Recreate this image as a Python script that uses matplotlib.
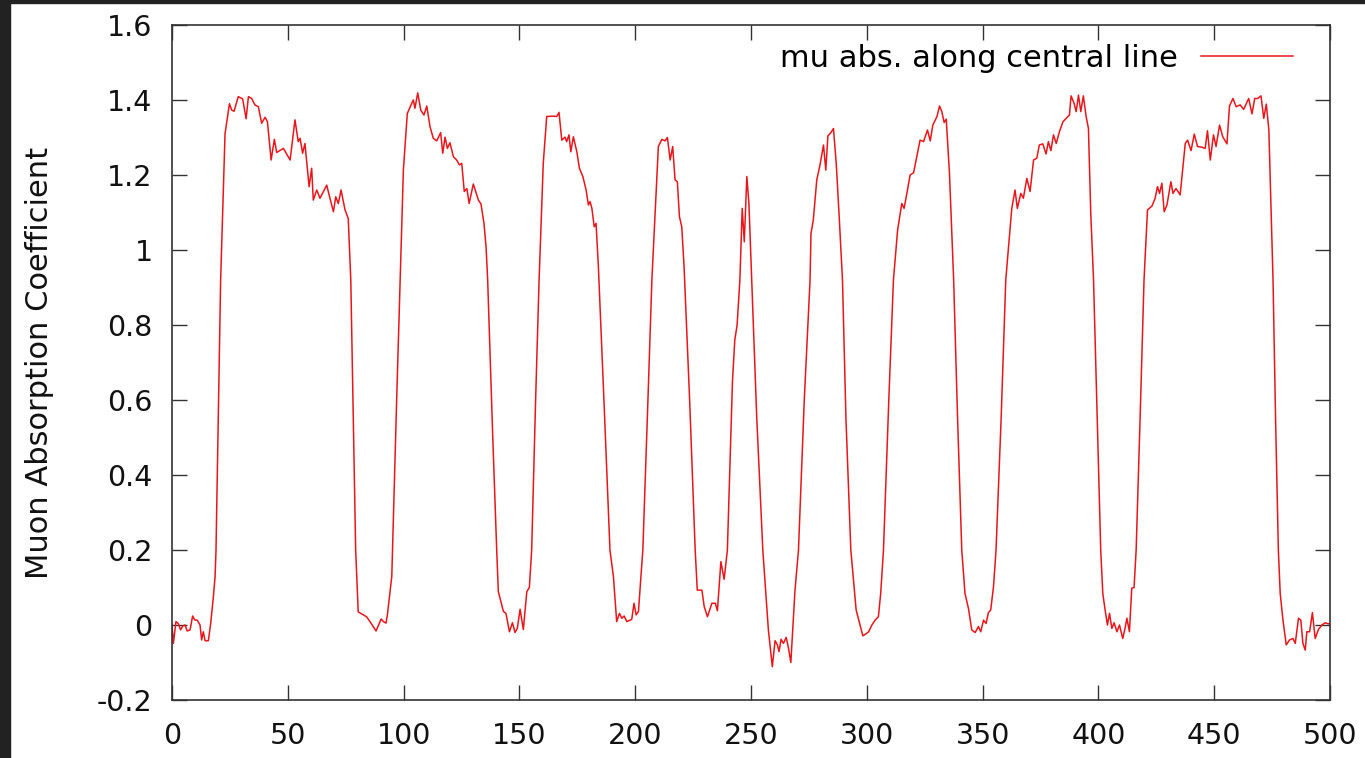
import matplotlib
matplotlib.use("Agg")
from matplotlib import pyplot as plt
from matplotlib.patches import Rectangle

# position along the central line and the absorption
pos = [0, 0.6, 1.7, 2.7, 3.7, 4.6, 5.6, 6.6, 7.8, 8.9, 9.9, 10.9, 12.1, 12.8, 13.5, 14.3, 15.7, 16.7,
       17.8, 18.6, 19.0, 21.0, 22.9, 24.8, 25.8, 26.8, 28.6, 30.5, 32.0, 33.0, 34.4, 35.8, 37.3, 38.7,
       40.2, 41.2, 42.8, 44.2, 45.2, 48.1, 51.0, 53.1, 54.5, 55.3, 56.4, 57.4, 59.2, 60.3, 61.0, 62.5,
       63.9, 66.8, 68.2, 69.7, 70.7, 71.8, 73.0, 74.7, 76.1, 77.2, 79.3,
       80.4, 84.0, 85.5, 88.1, 90.3, 91.3, 92.4, 93.0, 94.9, 97.0, 99.9, 101.6, 103.5, 104.2, 104.9,
       106.1, 107.4, 108.8, 110.0, 111.4, 112.8, 114.3, 116.0, 116.9, 117.9, 118.9, 120.0, 121.5,
       122.9, 124.1, 125.1, 126.2, 127.3, 128.3, 130.1, 132.3, 133.4, 134.7, 135.6, 136.3, 138.5,
       140.2, 140.9,
       143.1, 144.2, 145.7, 147.0, 148.1, 149.1, 150.3, 151.7, 153.2, 154.3, 155.3, 157.0, 158.5,
       160.3, 161.8, 164.7, 166.1, 167.1, 168.3, 169.7, 170.4, 171.4, 172.2, 173.3, 174.8, 175.9,
       177.4, 178.8, 179.8, 180.5, 181.3, 182.3, 183.1, 184.1, 186.5, 189.1, 190.6,
       192.0, 193.2, 194.2, 195.2, 196.4, 198.5, 199.5, 200.4, 201.4, 203.3, 205.5, 207.2, 210.0,
       211.5, 212.9, 213.9, 215.1, 216.2, 217.2, 218.2, 219.1, 220.1, 221.1, 223.5, 225.9, 226.8,
       228.8, 229.8, 231.2, 233.1, 234.6, 235.5, 237.0, 238.4, 239.8, 241.0, 242.0, 243.0, 244.0,
       245.2, 246.2, 247.1, 248.2, 249.1, 250.3, 252.5, 255.1, 256.1, 257.5,
       259.2, 260.4, 261.4, 262.1, 263.0, 264.0, 265.2, 266.2, 267.2, 269.0, 270.5, 273.0, 275.5,
       275.9, 276.9, 278.4, 279.8, 281.3, 282.3, 283.2, 284.5, 285.6, 286.8, 288.0, 289.5, 291.0,
       293.1,
       295.4, 298.3, 300.0, 300.8, 302.2, 303.6, 305.0, 306.0, 307.2, 309.5, 311.5, 313.3, 315.1,
       316.1, 317.3, 318.7, 320.2, 321.6, 323.0, 324.5, 326.2, 327.4, 328.5, 330.3, 331.4, 332.4,
       333.4, 334.3, 335.7, 337.5, 339.2, 341.0, 342.4,
       343.9, 345.3, 346.8, 348.2, 349.2, 350.4, 351.5, 352.5, 353.5, 354.7, 355.8, 358.0, 360.0,
       362.6, 364.0, 365.0, 366.5, 367.6, 369.1, 370.5, 372.0, 373.4, 374.5, 376.0, 377.4, 378.4,
       379.5, 380.6, 381.8, 383.2, 384.7, 386.1, 387.5, 388.2, 389.5, 390.4, 391.4, 392.4, 393.5,
       394.7, 395.7, 396.7, 397.9, 399.5, 401.0, 401.9,
       402.9, 403.9, 404.8, 405.8, 406.8, 408.0, 409.1, 410.5, 411.5, 412.3, 413.4, 414.4, 415.4,
       416.3, 418.0, 419.7, 421.2, 423.1, 424.5, 425.5, 426.4, 427.4, 428.4, 429.6, 431.3, 432.2,
       433.5, 435.3, 437.5, 438.5, 440.0, 441.4, 442.8, 444.7, 446.1, 447.1, 448.3, 449.7, 450.8,
       452.3, 453.7, 455.5, 456.6, 458.1, 459.5, 461.2, 462.7, 464.9, 466.3, 467.5, 468.8, 470.2,
       471.4, 472.5, 473.6, 474.6, 475.4, 476.5, 477.7, 478.5,
       479.7, 481.1, 482.5, 484.0, 485.0, 486.4, 487.4, 488.3, 489.3, 490.0, 491.2, 492.4, 493.6,
       495.0, 496.5, 497.9, 499.3, 500.0]

mu = [0.0, -0.049, 0.009, 0.004, -0.013, -0.003, 0.0, -0.016, -0.013, 0.024, 0.013, 0.013, 0.0, -0.04,
      -0.018, -0.042, -0.042, 0.004, 0.071, 0.129, 0.2, 0.92, 1.31, 1.39, 1.373, 1.37, 1.409, 1.403,
      1.35, 1.409, 1.404, 1.387, 1.382, 1.338, 1.354, 1.342, 1.24, 1.295, 1.26, 1.271, 1.24, 1.347,
      1.289, 1.298, 1.258, 1.284, 1.169, 1.218, 1.133, 1.16, 1.138, 1.173, 1.138, 1.102, 1.142, 1.124,
      1.16, 1.107, 1.084, 0.92, 0.2,
      0.035, 0.022, 0.009, -0.016, 0.016, 0.009, 0.005, 0.027, 0.13, 0.6, 1.213, 1.364, 1.391, 1.4,
      1.378, 1.419, 1.373, 1.36, 1.384, 1.329, 1.298, 1.291, 1.313, 1.258, 1.301, 1.271, 1.286, 1.249,
      1.24, 1.227, 1.231, 1.156, 1.164, 1.124, 1.176, 1.133, 1.123, 1.071, 1.009, 0.92, 0.5, 0.2, 0.089,
      0.036, 0.031, -0.018, 0.006, -0.02, -0.009, 0.042, -0.012, 0.089, 0.1, 0.2, 0.6, 0.92, 1.231,
      1.356, 1.357, 1.356, 1.367, 1.293, 1.301, 1.289, 1.307, 1.262, 1.302, 1.262, 1.218, 1.196, 1.16,
      1.12, 1.129, 1.111, 1.062, 1.071, 0.956, 0.6, 0.2, 0.129,
      0.009, 0.031, 0.018, 0.024, 0.009, 0.015, 0.058, 0.027, 0.036, 0.2, 0.6, 0.92, 1.276, 1.295,
      1.291, 1.3, 1.24, 1.276, 1.187, 1.182, 1.089, 1.062, 0.956, 0.6, 0.2, 0.093,
      0.093, 0.049, 0.022, 0.058, 0.058, 0.038, 0.169, 0.122, 0.2, 0.45, 0.65, 0.76, 0.8, 0.92, 1.111,
      1.022, 1.196, 1.124, 0.92, 0.55, 0.2, 0.111, -0.013,
      -0.111, -0.042, -0.053, -0.071, -0.038, -0.049, -0.033, -0.062, -0.1, 0.093, 0.2, 0.6, 0.92,
      1.044, 1.08, 1.187, 1.227, 1.28, 1.213, 1.304, 1.313, 1.324, 1.231, 1.098, 0.92, 0.55, 0.2,
      0.04, -0.029, -0.022, -0.018, 0.0, 0.013, 0.022, 0.084, 0.2, 0.6, 0.92, 1.053, 1.124, 1.111,
      1.151, 1.2, 1.206, 1.249, 1.293, 1.289, 1.32, 1.291, 1.333, 1.356, 1.384, 1.369, 1.34, 1.349,
      1.204, 0.92, 0.55, 0.2, 0.084,
      0.044, -0.013, -0.02, -0.004, -0.018, 0.013, 0.004, 0.033, 0.04, 0.102, 0.2, 0.55, 0.92, 1.111,
      1.16, 1.111, 1.151, 1.138, 1.191, 1.156, 1.24, 1.245, 1.28, 1.283, 1.256, 1.289, 1.265, 1.307,
      1.284, 1.316, 1.342, 1.351, 1.36, 1.411, 1.391, 1.369, 1.413, 1.369, 1.411, 1.356, 1.324, 1.098,
      0.92, 0.55, 0.2, 0.084,
      0.04, 0.0, 0.031, -0.009, 0.006, -0.018, 0.0, -0.036, -0.009, 0.018, -0.018, 0.098, 0.1, 0.2,
      0.55, 0.92, 1.107, 1.117, 1.138, 1.169, 1.151, 1.178, 1.102, 1.12, 1.182, 1.151, 1.164, 1.147,
      1.284, 1.293, 1.265, 1.309, 1.276, 1.274, 1.271, 1.318, 1.24, 1.307, 1.276, 1.333, 1.302, 1.283,
      1.384, 1.404, 1.382, 1.387, 1.375, 1.404, 1.363, 1.404, 1.404, 1.411, 1.351, 1.389, 1.32, 1.098,
      0.92, 0.55, 0.2, 0.084,
      0.013, -0.053, -0.04, -0.036, -0.049, 0.018, 0.013, -0.049, -0.067, -0.018, -0.018, 0.033,
      -0.036, -0.012, 0.0, 0.006, 0.003, 0.005]

x_ticks = [0, 50, 100, 150, 200, 250, 300, 350, 400, 450, 500]
y_ticks = [-0.2, 0, 0.2, 0.4, 0.6, 0.8, 1, 1.2, 1.4, 1.6]
y_labels = ["-0.2", "0", "0.2", "0.4", "0.6", "0.8", "1", "1.2", "1.4", "1.6"]

W, H = 1365, 758
fig = plt.figure(figsize=(W / 100, H / 100), dpi=100)
fig.patch.set_facecolor("white")
ax = fig.add_axes([172 / W, 1 - 700 / H, (1330 - 172) / W, (700 - 25) / H])

ax.plot(pos, mu, color="#e8161b", linewidth=1.1, label="mu abs. along central line")

ax.set_xlim(0, 500)
ax.set_ylim(-0.2, 1.6)
ax.set_xticks(x_ticks)
ax.set_yticks(y_ticks)
ax.set_yticklabels(y_labels)
ax.tick_params(direction="in", length=10.8, width=1.0, color="#333333",
               top=True, right=True, labelsize=20.5, labelcolor="#111111")
ax.tick_params(axis="x", pad=16)
ax.tick_params(axis="y", pad=14)
for s in ax.spines.values():
    s.set_color("#333333")
    s.set_linewidth(1.2)

ax.set_ylabel("Muon Absorption Coefficient", fontsize=22, color="#111111", labelpad=31)

ax.legend(loc="upper right", bbox_to_anchor=(0.968, 0.972), frameon=False,
          markerfirst=False, handlelength=3.0, handletextpad=0.75,
          borderpad=0, borderaxespad=0, fontsize=22)

# dark screenshot frame along the top and left edges
fig.add_artist(Rectangle((0, 1 - 3 / H), 1, 3 / H, transform=fig.transFigure,
                         color="#222222", zorder=10))
fig.add_artist(Rectangle((0, 0), 10 / W, 1, transform=fig.transFigure,
                         color="#222222", zorder=10))

fig.savefig("out.png", dpi=100)
